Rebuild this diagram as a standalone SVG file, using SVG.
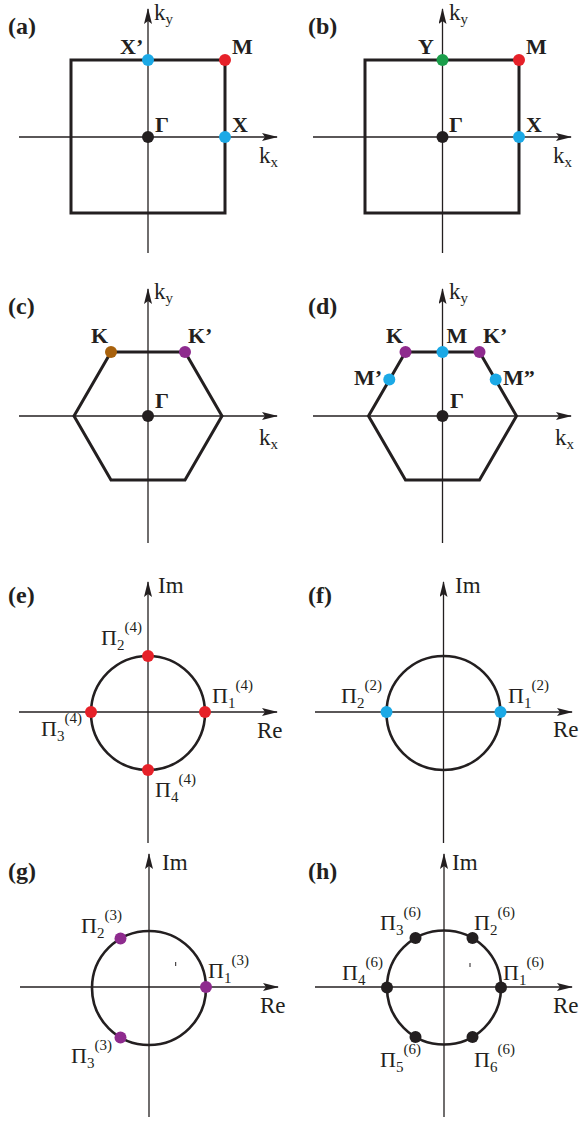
<svg xmlns="http://www.w3.org/2000/svg" width="579" height="1121" viewBox="0 0 579 1121">
<defs>
<marker id="arr" markerUnits="userSpaceOnUse" markerWidth="16" markerHeight="8" refX="15" refY="4" orient="auto">
<path d="M0,0 L16,4 L0,8 L3,4 Z" fill="#231f20"/>
</marker>
<style>
.ax{stroke:#231f20;stroke-width:1.3;fill:none;marker-end:url(#arr)}
.bz{stroke:#231f20;stroke-width:3;fill:none;stroke-linejoin:miter}
.ci{stroke:#231f20;stroke-width:2.6;fill:none}
.tk{stroke:#231f20;stroke-width:1}
.pl{font-family:"Liberation Serif","Times New Roman",serif;font-weight:bold;font-size:24px;fill:#231f20}
.bl{font-family:"Liberation Serif","Times New Roman",serif;font-weight:bold;font-size:22px;fill:#231f20}
.ak{font-family:"Liberation Serif","Times New Roman",serif;font-size:23px;fill:#231f20}
.pi{font-family:"Liberation Serif","Times New Roman",serif;font-size:22px;fill:#231f20}
.s{font-size:15px}
circle.d{stroke:none}
.red{fill:#e62129}.cy{fill:#1ba9e6}.gr{fill:#1a9e4a}.pu{fill:#8e2b8e}.br{fill:#a8610c}.bk{fill:#231f20}
</style>
</defs>

<g id="connectors">
<line class="ax" x1="19" y1="137" x2="277" y2="137"/>
<line class="ax" x1="148" y1="253" x2="148" y2="9"/>
<line class="ax" x1="313" y1="137" x2="571" y2="137"/>
<line class="ax" x1="442.5" y1="253" x2="442.5" y2="9"/>
<line class="ax" x1="19" y1="416" x2="277" y2="416"/>
<line class="ax" x1="148" y1="543" x2="148" y2="289"/>
<line class="ax" x1="313" y1="416" x2="571" y2="416"/>
<line class="ax" x1="442.5" y1="543" x2="442.5" y2="289"/>
<line class="ax" x1="19" y1="712" x2="277" y2="712"/>
<line class="ax" x1="148" y1="843" x2="148" y2="582"/>
<line class="ax" x1="315" y1="712" x2="572" y2="712"/>
<line class="ax" x1="443.5" y1="843" x2="443.5" y2="582"/>
<line class="ax" x1="20" y1="987" x2="278" y2="987"/>
<line class="ax" x1="149" y1="1117" x2="149" y2="854"/>
<line class="ax" x1="315" y1="987" x2="572" y2="987"/>
<line class="ax" x1="444" y1="1117" x2="444" y2="854"/>
</g>

<g id="panel-a">
<rect class="bz" x="71" y="60" width="154" height="153"/>
<text class="pl" x="8" y="34">(a)</text>
<text class="ak" x="154" y="20">k<tspan class="s" dy="4">y</tspan></text>
<text class="ak" x="259" y="163">k<tspan class="s" dy="4">x</tspan></text>
<g id="a-Xp"><circle class="d cy" cx="148" cy="60" r="6"/><text class="bl" x="120" y="54">X’</text></g>
<g id="a-M"><circle class="d red" cx="225" cy="60" r="6"/><text class="bl" x="232" y="54">M</text></g>
<g id="a-G"><circle class="d bk" cx="148" cy="137" r="6"/><text class="bl" x="155" y="132">Γ</text></g>
<g id="a-X"><circle class="d cy" cx="225" cy="137" r="6"/><text class="bl" x="232" y="132">X</text></g>
</g>

<g id="panel-b">
<rect class="bz" x="365" y="60" width="154" height="153"/>
<text class="pl" x="308" y="34">(b)</text>
<text class="ak" x="449" y="20">k<tspan class="s" dy="4">y</tspan></text>
<text class="ak" x="553" y="163">k<tspan class="s" dy="4">x</tspan></text>
<g id="b-Y"><circle class="d gr" cx="442.5" cy="60" r="6"/><text class="bl" x="418" y="54">Y</text></g>
<g id="b-M"><circle class="d red" cx="519" cy="60" r="6"/><text class="bl" x="526" y="54">M</text></g>
<g id="b-G"><circle class="d bk" cx="442.5" cy="137" r="6"/><text class="bl" x="449" y="132">Γ</text></g>
<g id="b-X"><circle class="d cy" cx="519" cy="137" r="6"/><text class="bl" x="526" y="132">X</text></g>
</g>

<g id="panel-c">
<polygon class="bz" points="74,416 111,351.9 185,351.9 222,416 185,480.1 111,480.1"/>
<text class="pl" x="8" y="314">(c)</text>
<text class="ak" x="154" y="299">k<tspan class="s" dy="4">y</tspan></text>
<text class="ak" x="259" y="445">k<tspan class="s" dy="4">x</tspan></text>
<g id="c-K"><circle class="d br" cx="111" cy="351.9" r="6"/><text class="bl" x="91" y="343">K</text></g>
<g id="c-Kp"><circle class="d pu" cx="185" cy="351.9" r="6"/><text class="bl" x="188" y="343">K’</text></g>
<g id="c-G"><circle class="d bk" cx="148" cy="416" r="6"/><text class="bl" x="155" y="408">Γ</text></g>
</g>

<g id="panel-d">
<polygon class="bz" points="368.5,416 405.5,351.9 479.5,351.9 516.5,416 479.5,480.1 405.5,480.1"/>
<text class="pl" x="308" y="314">(d)</text>
<text class="ak" x="449" y="299">k<tspan class="s" dy="4">y</tspan></text>
<text class="ak" x="555" y="445">k<tspan class="s" dy="4">x</tspan></text>
<g id="d-K"><circle class="d pu" cx="405.5" cy="351.9" r="6"/><text class="bl" x="386" y="343">K</text></g>
<g id="d-M"><circle class="d cy" cx="442.5" cy="351.9" r="6"/><text class="bl" x="446.5" y="343">M</text></g>
<g id="d-Kp"><circle class="d pu" cx="479.5" cy="351.9" r="6"/><text class="bl" x="483" y="343">K’</text></g>
<g id="d-Mp"><circle class="d cy" cx="389.3" cy="379.5" r="6"/><text class="bl" x="354" y="385">M’</text></g>
<g id="d-Mpp"><circle class="d cy" cx="495.7" cy="379.5" r="6"/><text class="bl" x="503" y="385">M”</text></g>
<g id="d-G"><circle class="d bk" cx="442.5" cy="416" r="6"/><text class="bl" x="450" y="408">Γ</text></g>
</g>

<g id="panel-e">
<circle class="ci" cx="148" cy="713" r="57"/>
<text class="pl" x="8" y="603">(e)</text>
<text class="ak" x="158" y="593">Im</text>
<text class="ak" x="257" y="738">Re</text>
<g id="e-P1"><circle class="d red" cx="205" cy="712" r="6"/><text class="pi" x="212" y="703">Π<tspan class="s" dy="5">1</tspan><tspan class="s" dy="-18">(4)</tspan></text></g>
<g id="e-P2"><circle class="d red" cx="148" cy="656" r="6"/><text class="pi" x="101" y="645">Π<tspan class="s" dy="5">2</tspan><tspan class="s" dy="-18">(4)</tspan></text></g>
<g id="e-P3"><circle class="d red" cx="91" cy="712" r="6"/><text class="pi" x="41" y="736">Π<tspan class="s" dy="5">3</tspan><tspan class="s" dy="-18">(4)</tspan></text></g>
<g id="e-P4"><circle class="d red" cx="148" cy="770" r="6"/><text class="pi" x="155" y="797">Π<tspan class="s" dy="5">4</tspan><tspan class="s" dy="-18">(4)</tspan></text></g>
</g>

<g id="panel-f">
<circle class="ci" cx="443.5" cy="713" r="57"/>
<text class="pl" x="308" y="603">(f)</text>
<text class="ak" x="455" y="593">Im</text>
<text class="ak" x="553" y="737">Re</text>
<g id="f-P1"><circle class="d cy" cx="500.5" cy="712" r="6"/><text class="pi" x="508" y="703">Π<tspan class="s" dy="5">1</tspan><tspan class="s" dy="-18">(2)</tspan></text></g>
<g id="f-P2"><circle class="d cy" cx="386.5" cy="712" r="6"/><text class="pi" x="341" y="703">Π<tspan class="s" dy="5">2</tspan><tspan class="s" dy="-18">(2)</tspan></text></g>
</g>

<g id="panel-g">
<circle class="ci" cx="149" cy="988" r="57"/>
<line class="tk" x1="175.7" y1="962" x2="175.7" y2="966"/>
<text class="pl" x="8" y="879">(g)</text>
<text class="ak" x="162" y="870">Im</text>
<text class="ak" x="260" y="1013">Re</text>
<g id="g-P1"><circle class="d pu" cx="206" cy="987" r="6"/><text class="pi" x="208" y="978">Π<tspan class="s" dy="5">1</tspan><tspan class="s" dy="-18">(3)</tspan></text></g>
<g id="g-P2"><circle class="d pu" cx="120.5" cy="938.6" r="6"/><text class="pi" x="81" y="933">Π<tspan class="s" dy="5">2</tspan><tspan class="s" dy="-18">(3)</tspan></text></g>
<g id="g-P3"><circle class="d pu" cx="120.5" cy="1037.4" r="6"/><text class="pi" x="71" y="1063">Π<tspan class="s" dy="5">3</tspan><tspan class="s" dy="-18">(3)</tspan></text></g>
</g>

<g id="panel-h">
<circle class="ci" cx="444" cy="987.5" r="57"/>
<line class="tk" x1="470" y1="963" x2="470" y2="967"/>
<text class="pl" x="308" y="879">(h)</text>
<text class="ak" x="452" y="870">Im</text>
<text class="ak" x="553" y="1013">Re</text>
<g id="h-P1"><circle class="d bk" cx="501" cy="987.5" r="6"/><text class="pi" x="503" y="980">Π<tspan class="s" dy="5">1</tspan><tspan class="s" dy="-18">(6)</tspan></text></g>
<g id="h-P2"><circle class="d bk" cx="472.5" cy="938.1" r="6"/><text class="pi" x="474" y="930">Π<tspan class="s" dy="5">2</tspan><tspan class="s" dy="-18">(6)</tspan></text></g>
<g id="h-P3"><circle class="d bk" cx="415.5" cy="938.1" r="6"/><text class="pi" x="380" y="930">Π<tspan class="s" dy="5">3</tspan><tspan class="s" dy="-18">(6)</tspan></text></g>
<g id="h-P4"><circle class="d bk" cx="387" cy="987.5" r="6"/><text class="pi" x="342" y="980">Π<tspan class="s" dy="5">4</tspan><tspan class="s" dy="-18">(6)</tspan></text></g>
<g id="h-P5"><circle class="d bk" cx="415.5" cy="1036.9" r="6"/><text class="pi" x="380" y="1067">Π<tspan class="s" dy="5">5</tspan><tspan class="s" dy="-18">(6)</tspan></text></g>
<g id="h-P6"><circle class="d bk" cx="472.5" cy="1036.9" r="6"/><text class="pi" x="474" y="1067">Π<tspan class="s" dy="5">6</tspan><tspan class="s" dy="-18">(6)</tspan></text></g>
</g>
</svg>
